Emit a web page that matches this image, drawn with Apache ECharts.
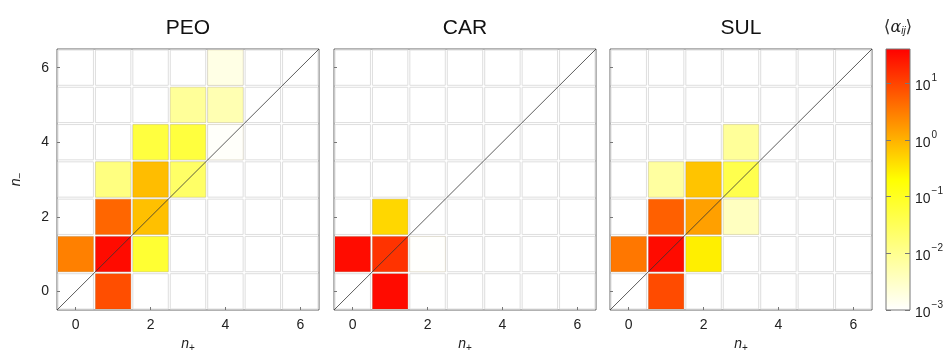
<!DOCTYPE html>
<html>
<head>
<meta charset="utf-8">
<script src="https://cdn.jsdelivr.net/npm/echarts@6/dist/echarts.min.js"></script>
<style>
html,body{margin:0;padding:0;background:#fff;}
#chart{width:948px;height:350px;}
</style>
</head>
<body>
<div id="chart"></div>
<script>
// ---- data ----
const panelTitles = ['PEO', 'CAR', 'SUL'];
const nValues = [0, 1, 2, 3, 4, 5, 6];
const tickLabels = [0, 2, 4, 6];
const colorbarTicks = [-3, -2, -1, 0, 1];   // log10 of colorbar tick values
const colorMin = 1e-3;
const colorMax = 40;
const axisMin = -0.5;
const axisMax = 6.5;

// cells as [n+, n-]
const peoCells = [[1,0],[0,1],[1,1],[2,1],[1,2],[2,2],[1,3],[2,3],[3,3],[2,4],[3,4],[4,4],[3,5],[4,5],[4,6]];
const peoValues = [8.0, 2.8, 32, 0.069, 4.8, 0.74, 0.014, 0.79, 0.024, 0.054, 0.056, 0.0011, 0.0083, 0.0049, 0.0017];

const carCells = [[1,0],[0,1],[1,1],[2,1],[1,2]];
const carValues = [32, 31, 14, 0.00105, 0.46];

const sulCells = [[1,0],[0,1],[1,1],[2,1],[1,2],[2,2],[3,2],[1,3],[2,3],[3,3],[3,4]];
const sulValues = [8.5, 3.4, 32, 0.28, 5.5, 1.45, 0.0037, 0.0072, 0.68, 0.041, 0.0083];

const colormap = ['#ffffff','#ffffbf','#ffff80','#ffff40','#ffff00','#ffbf00','#ff8000','#ff4000','#ff0000'];

// ---- build ----
const panelCells = [peoCells, carCells, sulCells];
const panelValues = [peoValues, carValues, sulValues];
const logMin = Math.log10(colorMin);
const logMax = Math.log10(colorMax);

const FONT = 'Liberation Sans';
const gridLefts = [57, 334, 610];
const grids = gridLefts.map(l => ({left: l, top: 49, width: 262, height: 261, show: true, borderColor: '#666', borderWidth: 1, backgroundColor: '#fff', outerBoundsMode: 'none', containLabel: false}));
grids.push({left: 886, top: 49, width: 24, height: 261, show: false, outerBoundsMode: 'none', containLabel: false});

const bgData = [];
nValues.forEach(x => nValues.forEach(y => bgData.push([x, y])));

function bgRender(params, api) {
  const p = api.coord([api.value(0) - 0.5, api.value(1) + 0.5]);
  const s = api.size([1, 1]);
  return {type: 'rect', shape: {x: p[0] + 1, y: p[1] + 1, width: s[0] - 2, height: s[1] - 2},
    style: {fill: '#fff', stroke: '#dedede', lineWidth: 1}};
}
function cellRender(params, api) {
  const p = api.coord([api.value(0) - 0.5, api.value(1) + 0.5]);
  const s = api.size([1, 1]);
  return {type: 'rect', shape: {x: p[0] + 1, y: p[1] + 1, width: s[0] - 2, height: s[1] - 2},
    style: {fill: api.visual('color'), stroke: 'rgba(120,90,0,0.12)', lineWidth: 1}};
}

const xAxes = [], yAxes = [], series = [];
const nameRich = {n: {fontStyle: 'italic', fontSize: 14, fontFamily: FONT, color: '#222'}, s: {fontSize: 10, fontFamily: FONT, color: '#222', verticalAlign: 'bottom', padding: [7, 0, 0, 0]}};
for (let i = 0; i < 3; i++) {
  xAxes.push({
    type: 'value', gridIndex: i, min: axisMin, max: axisMax, z: 10,
    axisLine: {show: false, onZero: false}, splitLine: {show: false},
    axisTick: {show: true, inside: true, length: 3, customValues: tickLabels, lineStyle: {color: '#777'}},
    axisLabel: {customValues: tickLabels, fontSize: 14, color: '#222', fontFamily: FONT, margin: 8},
    name: '{n|n}{s|+}', nameLocation: 'middle', nameGap: 26, nameTextStyle: {rich: nameRich}
  });
  yAxes.push({
    type: 'value', gridIndex: i, min: axisMin, max: axisMax, z: 10,
    axisLine: {show: false, onZero: false}, splitLine: {show: false},
    axisTick: {show: true, inside: true, length: 3, customValues: tickLabels, lineStyle: {color: '#777'}},
    axisLabel: {show: i === 0, customValues: tickLabels, fontSize: 14, color: '#222', fontFamily: FONT, margin: 8},
    name: i === 0 ? '{n|n}{s|\u2212}' : '', nameLocation: 'middle', nameGap: 32, nameTextStyle: {rich: nameRich}
  });
  series.push({type: 'custom', xAxisIndex: i, yAxisIndex: i, data: bgData, renderItem: bgRender, silent: true, encode: {x: 0, y: 1}});
  const data = panelCells[i].map((c, k) => [c[0], c[1], Math.log10(panelValues[i][k])]);
  series.push({type: 'custom', xAxisIndex: i, yAxisIndex: i, data: data, renderItem: cellRender, encode: {x: 0, y: 1}});
  series.push({type: 'line', xAxisIndex: i, yAxisIndex: i, data: [[axisMin, axisMin], [axisMax, axisMax]], symbol: 'none', silent: true, z: 5,
    lineStyle: {color: '#333', width: 0.8}});
}

// colorbar axes
xAxes.push({type: 'value', gridIndex: 3, min: 0, max: 1, show: false});
yAxes.push({type: 'value', gridIndex: 3, min: logMin, max: logMax, position: 'right', z: 10,
  axisLine: {show: false, onZero: false}, splitLine: {show: false},
  axisTick: {show: true, inside: true, length: 5, customValues: colorbarTicks, lineStyle: {color: '#777'}},
  axisLabel: {customValues: colorbarTicks, margin: 5, fontFamily: FONT, color: '#222',
    formatter: v => '{b|10}{e|' + String(v).replace('-', '\u2212') + '}',
    rich: {b: {fontSize: 14, fontFamily: FONT, color: '#222', lineHeight: 20, verticalAlign: 'bottom'},
           e: {fontSize: 10, fontFamily: FONT, color: '#222', lineHeight: 20, verticalAlign: 'top', padding: [0, 0, 0, 1]}}}
});
yAxes.push({type: 'value', gridIndex: 3, min: logMin, max: logMax, position: 'left', z: 10,
  axisLine: {show: false, onZero: false}, splitLine: {show: false}, axisLabel: {show: false},
  axisTick: {show: true, inside: true, length: 5, customValues: colorbarTicks, lineStyle: {color: '#777'}}
});
series.push({type: 'custom', xAxisIndex: 3, yAxisIndex: 3, data: [[0, logMin, 1, logMax]], silent: true,
  renderItem: function (params, api) {
    const p0 = api.coord([api.value(0), api.value(3)]);
    const p1 = api.coord([api.value(2), api.value(1)]);
    const stops = colormap.map((c, k) => ({offset: k / (colormap.length - 1), color: c}));
    return {type: 'rect', shape: {x: p0[0], y: p0[1], width: p1[0] - p0[0], height: p1[1] - p0[1]},
      style: {fill: new echarts.graphic.LinearGradient(0, 1, 0, 0, stops), stroke: '#777', lineWidth: 1}};
  }
});

const graphics = panelTitles.map((t, i) => ({
  type: 'text', x: gridLefts[i] + 131, y: 28,
  style: {text: t, font: '21px "Liberation Sans"', fill: '#111', align: 'center', verticalAlign: 'middle'}
}));
graphics.push({type: 'text', x: 898, y: 28, style: {
  text: '{p|\u27E8}{a|\u03B1}{s|ij}{p|\u27E9}', align: 'center', verticalAlign: 'middle', fontSize: 16, fontFamily: FONT, fill: '#222',
  rich: {p: {fontSize: 17, fontFamily: 'DejaVu Sans', fill: '#333'},
         a: {fontStyle: 'italic', fontSize: 16, fontFamily: 'DejaVu Serif', fill: '#222'},
         s: {fontStyle: 'italic', fontSize: 10, fontFamily: FONT, fill: '#222', verticalAlign: 'bottom', padding: [6, 0, 0, 0]}}
}});

const chart = echarts.init(document.getElementById('chart'), null, {renderer: 'canvas'});
chart.setOption({
  animation: false,
  backgroundColor: '#fff',
  grid: grids,
  xAxis: xAxes,
  yAxis: yAxes,
  visualMap: {type: 'continuous', show: false, min: logMin, max: logMax, dimension: 2, seriesIndex: [1, 4, 7], inRange: {color: colormap}},
  series: series,
  graphic: graphics
});
</script>
</body>
</html>
